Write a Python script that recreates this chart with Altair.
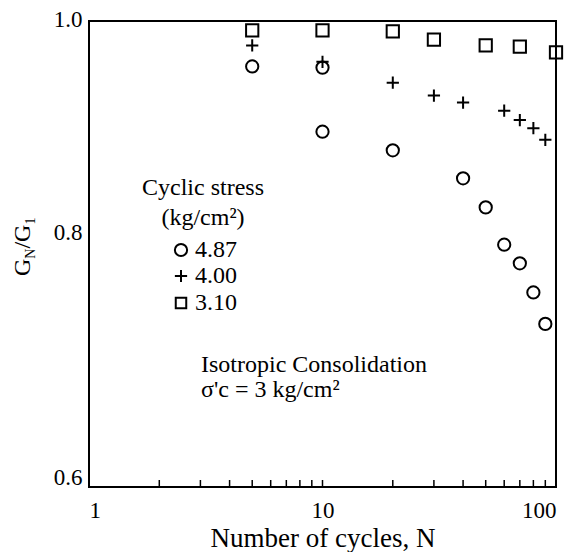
import altair as alt
import pandas as pd

FONT = "Liberation Serif"

# ---- data ----
stress_labels = ["4.87", "4.00", "3.10"]

n_487 = [5, 10, 10, 20, 40, 50, 60, 70, 80, 90]
g_487 = [0.961, 0.960, 0.905, 0.889, 0.865, 0.840, 0.808, 0.792, 0.767, 0.740]

n_400 = [5, 10, 20, 30, 40, 60, 70, 80, 90]
g_400 = [0.979, 0.965, 0.947, 0.936, 0.930, 0.923, 0.915, 0.908, 0.898]

n_310 = [5, 10, 20, 30, 50, 70, 100]
g_310 = [0.992, 0.992, 0.991, 0.984, 0.979, 0.978, 0.973]

x_labels = [1, 10, 100]
y_labels = [0.6, 0.8, 1.0]
minor_ticks = [2, 3, 4, 5, 6, 7, 8, 9, 10, 20, 30, 40, 50, 60, 70, 80, 90]

rows = []
for lab, ns, gs in zip(stress_labels, [n_487, n_400, n_310], [g_487, g_400, g_310]):
    for n, g in zip(ns, gs):
        rows.append({"N": n, "G": g, "stress": lab})
df = pd.DataFrame(rows)

PLUS = "M-1,0H1M0,-1V1"
shape_scale = alt.Scale(domain=stress_labels, range=["circle", PLUS, "square"])
size_scale = alt.Scale(domain=stress_labels, range=[150, 150, 110])

W, H = 467, 466
xscale = alt.Scale(type="log", domain=[1, 100])
yscale = alt.Scale(domain=[0.6, 1.0])

y_label_offset = {
    "condition": [
        {"test": "datum.value > 0.9", "value": -2},
        {"test": "datum.value > 0.7", "value": -22},
    ],
    "value": -10,
}

points = alt.Chart(df).mark_point(filled=False, color="black", strokeWidth=2, opacity=1).encode(
    x=alt.X("N:Q", scale=xscale,
            axis=alt.Axis(values=x_labels, format="d", title="Number of cycles, N",
                          ticks=False, domain=False, grid=False,
                          labelFontSize=23, labelPadding=12,
                          titleFontSize=27, titleBaseline="alphabetic", titleY=59)),
    y=alt.Y("G:Q", scale=yscale,
            axis=alt.Axis(values=y_labels, format=".1f", title=None,
                          ticks=False, domain=False, grid=False,
                          labelFontSize=23, labelPadding=7,
                          labelBaseline="middle", labelOffset=y_label_offset)),
    shape=alt.Shape("stress:N", scale=shape_scale, legend=None),
    size=alt.Size("stress:N", scale=size_scale, legend=None),
)

ticks = alt.Chart(pd.DataFrame({"N": minor_ticks})).mark_rule(color="black", strokeWidth=1.5).encode(
    x=alt.X("N:Q", scale=xscale),
    y=alt.value(H),
    y2=alt.value(H - 7),
)

one = pd.DataFrame({"a": [0]})


def label(text, x, y, fs=24, align="left", baseline="middle", angle=0):
    return alt.Chart(one).mark_text(
        text=text, font=FONT, fontSize=fs, align=align, baseline=baseline,
        angle=angle, color="black"
    ).encode(x=alt.value(x), y=alt.value(y))


def sym(shape, size, x, y):
    return alt.Chart(one).mark_point(
        shape=shape, size=size, filled=False, color="black", strokeWidth=2, opacity=1
    ).encode(x=alt.value(x), y=alt.value(y))


annotations = [
    # y-axis title G_N/G_1 (rotated, with subscripts)
    label("G", -59, 255, fs=24, baseline="alphabetic", angle=270),
    label("N", -54, 237.7, fs=14, baseline="alphabetic", angle=270),
    label("/G", -59, 227.6, fs=24, baseline="alphabetic", angle=270),
    label("1", -54, 203.6, fs=14, baseline="alphabetic", angle=270),
    # legend
    label("Cyclic stress", 114, 167, align="center"),
    label("(kg/cm²)", 114, 197, align="center"),
    sym("circle", 150, 92, 229),
    sym(PLUS, 150, 92, 255),
    sym("square", 110, 92, 282),
    label(stress_labels[0], 106, 229),
    label(stress_labels[1], 106, 255),
    label(stress_labels[2], 106, 282),
    # consolidation note
    label("Isotropic  Consolidation", 112, 344),
    label("σ'c = 3 kg/cm²", 112, 369),
]

chart = alt.layer(ticks, points, *annotations).properties(
    width=W, height=H,
    padding={"left": 81, "top": 13, "right": 13, "bottom": 65},
    autosize=alt.AutoSizeParams(type="none"),
).configure_view(
    stroke="black", strokeWidth=2
).configure_axis(
    labelFont=FONT, titleFont=FONT, labelColor="black", titleColor="black",
    titleFontWeight="normal"
)

chart.save("out.html", embed_options={"renderer": "svg", "actions": False})
